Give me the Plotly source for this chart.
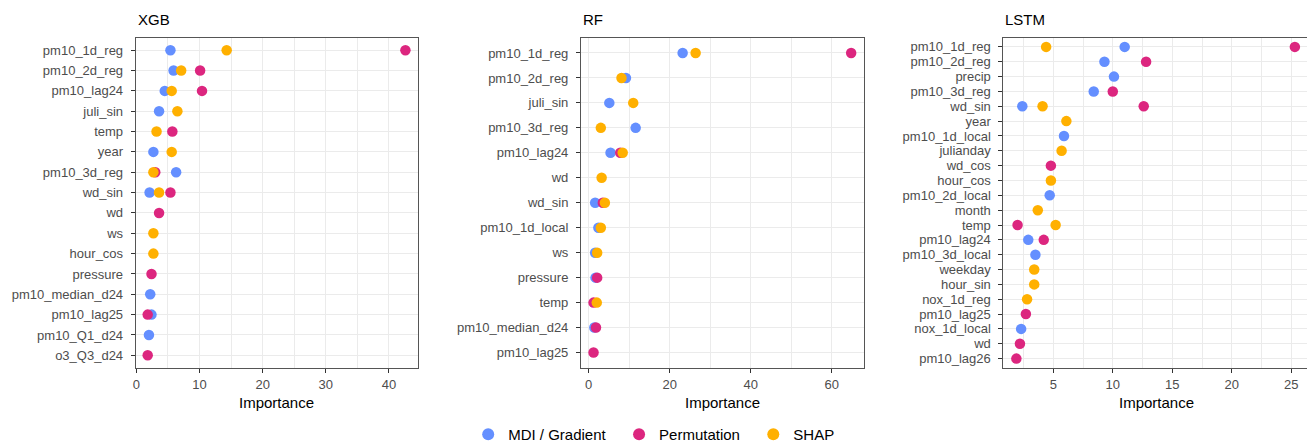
import plotly.graph_objects as go

# ---------------- data ----------------
xgb_features = ["pm10_1d_reg", "pm10_2d_reg", "pm10_lag24", "juli_sin", "temp", "year",
                "pm10_3d_reg", "wd_sin", "wd", "ws", "hour_cos", "pressure",
                "pm10_median_d24", "pm10_lag25", "pm10_Q1_d24", "o3_Q3_d24"]
xgb_mdi = [5.4, 5.9, 4.5, 3.6, None, 2.7, 6.3, 2.1, None, None, None, None, 2.2, 2.4, 2.0, None]
xgb_perm = [42.6, 10.1, 10.4, None, 5.7, None, 3.0, 5.4, 3.6, None, None, 2.4, None, 1.8, None, 1.8]
xgb_shap = [14.3, 7.1, 5.6, 6.5, 3.2, 5.6, 2.7, 3.6, None, 2.7, 2.7, None, None, None, None, None]

rf_features = ["pm10_1d_reg", "pm10_2d_reg", "juli_sin", "pm10_3d_reg", "pm10_lag24", "wd",
               "wd_sin", "pm10_1d_local", "ws", "pressure", "temp", "pm10_median_d24", "pm10_lag25"]
rf_mdi = [23.2, 9.2, 5.1, 11.6, 5.4, None, 1.6, 2.4, 1.6, 1.7, None, 1.4, None]
rf_perm = [64.8, None, None, None, 7.8, None, 3.5, None, None, 2.1, 1.2, 1.8, 1.2]
rf_shap = [26.4, 8.1, 11.0, 3.0, 8.4, 3.2, 4.0, 3.0, 2.1, None, 2.0, None, None]

lstm_features = ["pm10_1d_reg", "pm10_2d_reg", "precip", "pm10_3d_reg", "wd_sin", "year",
                 "pm10_1d_local", "julianday", "wd_cos", "hour_cos", "pm10_2d_local", "month",
                 "temp", "pm10_lag24", "pm10_3d_local", "weekday", "hour_sin", "nox_1d_reg",
                 "pm10_lag25", "nox_1d_local", "wd", "pm10_lag26"]
lstm_mdi = [11.0, 9.3, 10.1, 8.4, 2.4, None, 5.9, None, None, None, 4.7, None,
            None, 2.9, 3.5, None, None, None, None, 2.3, None, None]
lstm_perm = [25.3, 12.8, None, 10.0, 12.6, None, None, None, 4.8, None, None, None,
             2.0, 4.2, None, None, None, None, 2.7, None, 2.2, 1.9]
lstm_shap = [4.4, None, None, None, 4.1, 6.1, None, 5.7, None, 4.8, None, 3.7,
             5.2, None, None, 3.4, 3.4, 2.8, None, None, None, None]

model_titles = ["XGB", "RF", "LSTM"]
method_names = ["MDI / Gradient", "Permutation", "SHAP"]
method_colors = ["#648FFF", "#DC267F", "#FFB000"]

panels = [
    (xgb_features, [xgb_mdi, xgb_perm, xgb_shap]),
    (rf_features, [rf_mdi, rf_perm, rf_shap]),
    (lstm_features, [lstm_mdi, lstm_perm, lstm_shap]),
]

# ---------------- layout geometry (pixels from top-left) ----------------
# The figure is a little taller than the 444 px window so the legend row
# can sit as low as in the reference; the extra strip is hidden below the fold.
W, H = 1307, 451
x_px = [(133, 416), (579.3, 862.7), (1002.7, 1307)]
y_top, y_bot = 38, 367.5
x_ranges = [[-0.1, 44.6], [-1.9, 67.9], [0.81, 26.32]]
x_dticks = [10, 20, 5]
x_minor = [5, 10, 2.5]
legend_pad = ["\u00a0\u00a0", "\u00a0\u00a0", ""]

fig = go.Figure()

for p, (feats, series) in enumerate(panels):
    sfx = "" if p == 0 else str(p + 1)
    for m, vals in enumerate(series):
        xs = [v for v in vals if v is not None]
        ys = [f for f, v in zip(feats, vals) if v is not None]
        fig.add_trace(go.Scatter(
            x=xs, y=ys, mode="markers",
            marker=dict(color=method_colors[m], size=10.5, line=dict(width=0)),
            name=method_names[m] + legend_pad[m], legendgroup=method_names[m],
            showlegend=(p == 0),
            xaxis="x" + sfx, yaxis="y" + sfx,
        ))

layout = dict(
    width=W, height=H,
    margin=dict(l=0, r=0, t=0, b=0),
    paper_bgcolor="white", plot_bgcolor="white",
    font=dict(family="Liberation Sans, Arial, sans-serif", color="#4D4D4D", size=13),
    showlegend=True,
    legend=dict(orientation="h", x=0.499, xanchor="center", y=0, yanchor="bottom",
                font=dict(size=15, color="black"), bgcolor="rgba(0,0,0,0)",
                itemsizing="constant"),
)

annotations = []
for p, (feats, series) in enumerate(panels):
    sfx = "" if p == 0 else str(p + 1)
    x0, x1 = x_px[p]
    n = len(feats)
    layout["xaxis" + sfx] = dict(
        domain=[x0 / W, min(x1 / W, 1.0)],
        anchor="y" + sfx,
        range=x_ranges[p],
        tick0=0, dtick=x_dticks[p],
        showgrid=True, gridcolor="#EBEBEB", gridwidth=1.4,
        minor=dict(showgrid=True, gridcolor="#EBEBEB", gridwidth=1.2, dtick=x_minor[p], tick0=0),
        zeroline=False,
        showline=True, linecolor="#555555", linewidth=1, mirror=True,
        ticks="outside", ticklen=4, tickcolor="#333333", tickwidth=1,
        ticklabelstandoff=1,
        tickfont=dict(size=13, color="#4D4D4D"),
    )
    layout["yaxis" + sfx] = dict(
        domain=[1 - y_bot / H, 1 - y_top / H],
        anchor="x" + sfx,
        type="category", categoryorder="array", categoryarray=feats,
        tickmode="array", tickvals=feats, ticktext=feats,
        range=[n - 1 + 0.6, -0.6],
        showgrid=True, gridcolor="#EBEBEB", gridwidth=1.4,
        zeroline=False,
        showline=True, linecolor="#555555", linewidth=1, mirror=(p != 2),
        ticks="outside", ticklen=4, tickcolor="#333333", tickwidth=1,
        ticklabelstandoff=5,
        tickfont=dict(size=13, color="#4D4D4D"),
    )
    annotations.append(dict(
        text=model_titles[p], xref="paper", yref="paper",
        x=x0 / W, y=1 - 20 / H, xanchor="left", yanchor="middle",
        showarrow=False, font=dict(size=15, color="black"),
    ))
    annotations.append(dict(
        text="Importance", xref="paper", yref="paper",
        x=((x0 + x1) / 2) / W if p != 2 else ((x0 + 1309) / 2) / W,
        y=1 - 402 / H, xanchor="center", yanchor="middle",
        showarrow=False, font=dict(size=15, color="black"),
    ))

layout["annotations"] = annotations
fig.update_layout(**layout)

fig.write_html(
    "out.html",
    post_script="document.documentElement.style.overflow='hidden';"
                "document.body.style.overflow='hidden';",
)
